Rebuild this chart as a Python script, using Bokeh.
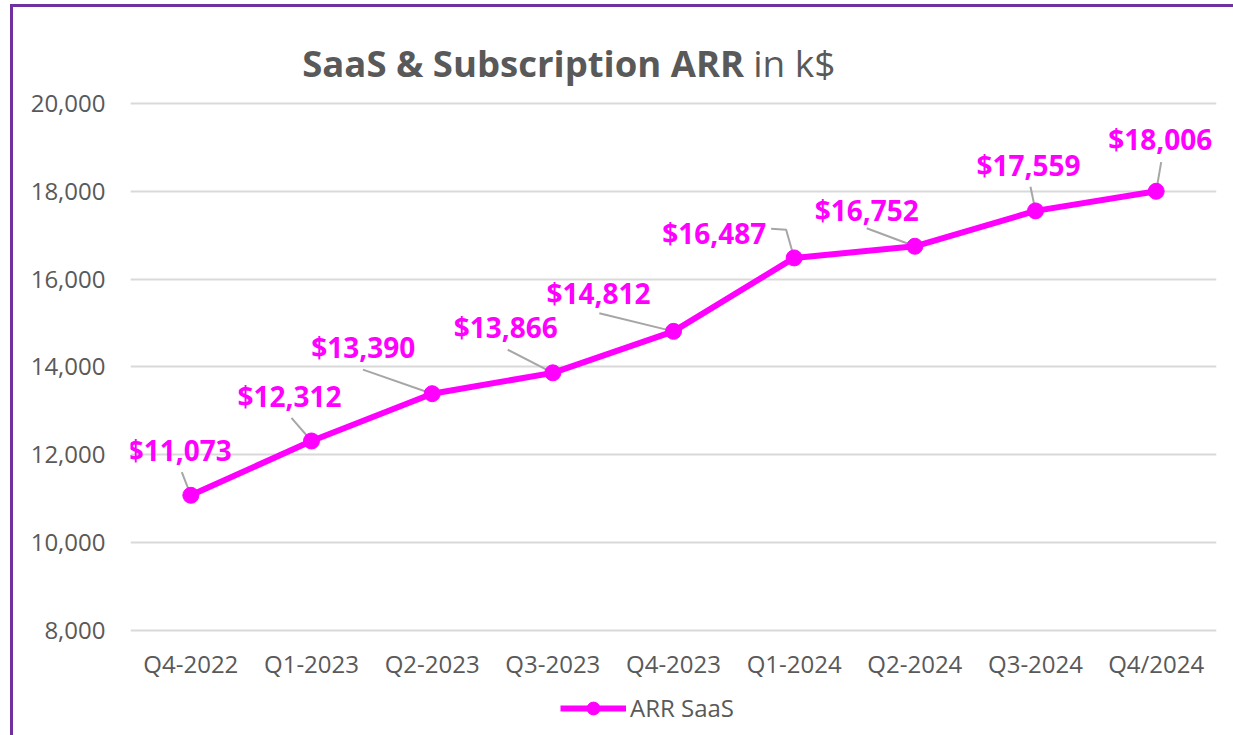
from bokeh.plotting import figure
from bokeh.models import (FactorRange, Range1d, ColumnDataSource, NumeralTickFormatter,
                          Label, Legend, LegendItem, FixedTicker)
from bokeh.core.properties import value
from bokeh.layouts import column
from bokeh.embed import file_html
from bokeh.resources import INLINE

# ---- data ----
quarters = ["Q4-2022", "Q1-2023", "Q2-2023", "Q3-2023", "Q4-2023",
            "Q1-2024", "Q2-2024", "Q3-2024", "Q4/2024"]
arr_saas = [11073, 12312, 13390, 13866, 14812, 16487, 16752, 17559, 18006]
label_texts = ["$11,073", "$12,312", "$13,390", "$13,866", "$14,812",
               "$16,487", "$16,752", "$17,559", "$18,006"]
y_ticks = [8000, 10000, 12000, 14000, 16000, 18000, 20000]
series_name = "ARR SaaS"
title_bold = "SaaS & Subscription ARR"
title_rest = "in k$"

# ---- layout / style ----
FONT = "Open Sans"
MAGENTA = "#FF00FF"
GREY_TXT = "#595959"
FRAME_W = 1083
Y_MIN, Y_MAX = 8000, 20000
px_x = FRAME_W / len(quarters)
px_y = 524 / (Y_MAX - Y_MIN)          # pixels per k$
TOP_PAD_PX, BOTTOM_PAD_PX = 88, 106    # frame space above 20,000 / below 8,000
y_lo = Y_MIN - BOTTOM_PAD_PX / px_y
y_hi = Y_MAX + TOP_PAD_PX / px_y
FRAME_H = 524 + TOP_PAD_PX + BOTTOM_PAD_PX

# data-label offsets (pixels, screen: +y down)
label_dx = [-11, -22, -69, -47, -75, -80, -48, -7, 4]
label_dy = [-45, -45, -47, -46, -38, -25, -36, -46, -52]
# leader line paths, pixel offsets from the point
leader_paths = [
    [(-9, -23), (0, 0)],
    [(-20, -23), (0, 0)],
    [(-69, -24), (0, 0)],
    [(-45, -23), (0, 0)],
    [(-74, -18), (0, 0)],
    [(-23, -29), (-8, -28), (0, 0)],
    [(-48, -18), (0, 0)],
    [(-5, -24), (0, 0)],
    [(5, -29), (0, 0)],
]

p = figure(x_range=FactorRange(factors=quarters, range_padding=0),
           y_range=Range1d(y_lo, y_hi),
           frame_width=FRAME_W, frame_height=FRAME_H,
           min_border_left=117, min_border_right=20,
           min_border_top=8, min_border_bottom=2,
           output_backend="svg", toolbar_location=None)
p.outline_line_color = None
p.background_fill_color = "white"
p.border_fill_color = "white"

# y axis
p.yaxis.ticker = FixedTicker(ticks=y_ticks)
p.yaxis.formatter = NumeralTickFormatter(format="0,0")
p.yaxis.axis_line_color = None
p.yaxis.major_tick_line_color = None
p.yaxis.minor_tick_line_color = None
p.yaxis.major_tick_out = 0
p.yaxis.major_tick_in = 0
p.yaxis.major_label_text_font = FONT
p.yaxis.major_label_text_font_size = "24px"
p.yaxis.major_label_text_color = GREY_TXT
p.yaxis.major_label_standoff = 25
# x axis: category labels drawn inside the frame (room for legend below)
p.xaxis.visible = False
p.xgrid.grid_line_color = None
p.ygrid.grid_line_color = "#D9D9D9"
p.ygrid.grid_line_width = 2

p.text(x=quarters, y=[Y_MIN] * len(quarters), text=quarters, y_offset=33,
       text_align="center", text_baseline="middle",
       text_font=value(FONT), text_font_size="24px", text_color=GREY_TXT)

# leader lines
xs_num = [i + 0.5 for i in range(len(quarters))]
lx, ly = [], []
for xc, yc, path in zip(xs_num, arr_saas, leader_paths):
    lx.append([xc + dx / px_x for dx, dy in path])
    ly.append([yc - dy / px_y for dx, dy in path])
p.multi_line(xs=lx, ys=ly, line_color="#A6A6A6", line_width=2)

src = ColumnDataSource(dict(q=quarters, v=arr_saas, t=label_texts,
                            dx=label_dx, dy=label_dy))
line_r = p.line(x="q", y="v", source=src, line_color=MAGENTA, line_width=6)
mark_r = p.scatter(x="q", y="v", source=src, size=16, fill_color=MAGENTA,
                   line_color=MAGENTA)
p.text(x="q", y="v", text="t", x_offset="dx", y_offset="dy", source=src,
       text_align="center", text_baseline="middle",
       text_font=value(FONT), text_font_style="bold", text_font_size="28px",
       text_color=MAGENTA)

# title (two runs)
title_y = Y_MAX + 41 / px_y
p.add_layout(Label(x=612 / px_x, y=title_y, text=title_bold, text_align="right",
                   text_baseline="middle", text_font=FONT, text_font_size="36.5px",
                   text_font_style="bold", text_color=GREY_TXT))
p.add_layout(Label(x=621 / px_x, y=title_y, text=title_rest, text_align="left",
                   text_baseline="middle", text_font=FONT, text_font_size="37px",
                   text_color=GREY_TXT))

legend = Legend(items=[LegendItem(label=series_name, renderers=[line_r, mark_r])],
                location=(430, 12), orientation="horizontal",
                glyph_width=66, glyph_height=32, label_standoff=4,
                padding=0, margin=0, spacing=0,
                label_text_font=FONT, label_text_font_size="24px",
                label_text_color=GREY_TXT,
                border_line_color=None, background_fill_alpha=0)
p.add_layout(legend)

p.styles = {"border-top": "3px solid #7030A0", "border-left": "3px solid #7030A0"}
page = column(p, styles={"padding-top": "4px", "padding-left": "10px"})

open("out.html", "w").write(file_html(page, INLINE))
